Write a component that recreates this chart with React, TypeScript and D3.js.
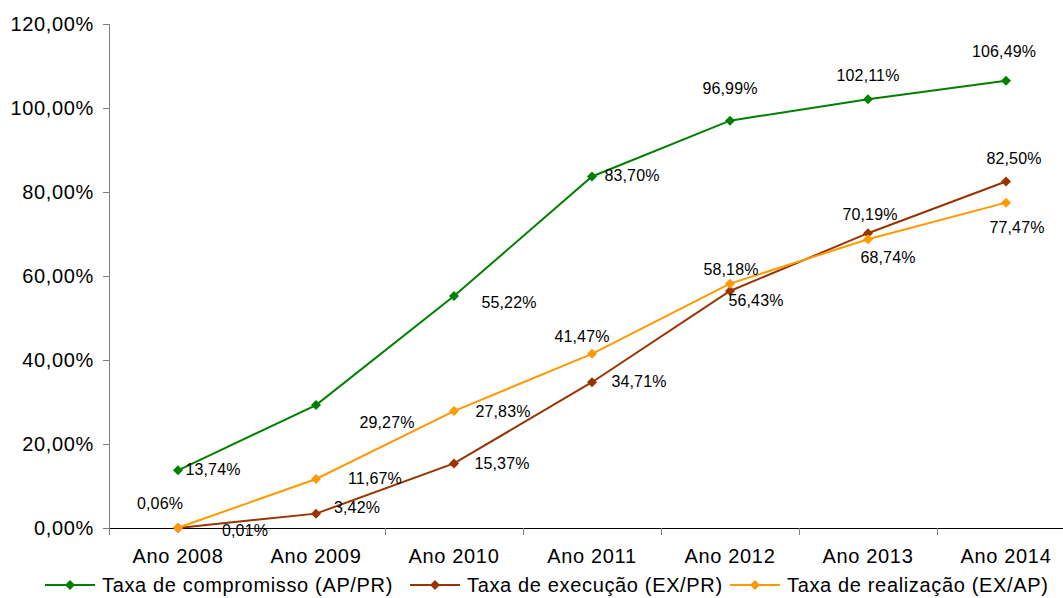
import React from "react";
import * as d3 from "d3";

const categories = ["Ano 2008", "Ano 2009", "Ano 2010", "Ano 2011", "Ano 2012", "Ano 2013", "Ano 2014"];
const compromisso = [13.74, 29.27, 55.22, 83.7, 96.99, 102.11, 106.49];
const execucao = [0.01, 3.42, 15.37, 34.71, 56.43, 70.19, 82.5];
const realizacao = [0.06, 11.67, 27.83, 41.47, 58.18, 68.74, 77.47];
const yTicks = [0, 20, 40, 60, 80, 100, 120];
const seriesNames = ["Taxa de compromisso (AP/PR)", "Taxa de execução (EX/PR)", "Taxa de realização (EX/AP)"];

// label offsets (layout only)
const labelOffsets: [number, number][][] = [
  [[35, -1], [71, 17], [55, 6], [40, -1], [0, -32], [0, -24], [-2, -29]],
  [[67, 2], [41, -6], [48, 0], [47, -1], [26, 9], [2, -19], [8, -23]],
  [[-18, -24], [59, -1], [49, 0], [-10, -17], [1, -14], [20, 18], [11, 25]],
];

const colors = ["#008000", "#993300", "#FF9900"];
const W = 1063, H = 598;
const FONT = "Arial, 'Liberation Sans', sans-serif";
const LS = 0.65;

const fmt = (v: number) => v.toFixed(2).replace(".", ",") + "%";

function Diamond({ x, y, r, color }: { x: number; y: number; r: number; color: string }) {
  return <path d={`M${x},${y - r}L${x + r},${y}L${x},${y + r}L${x - r},${y}Z`} fill={color} />;
}

export default function App() {
  const x = d3.scaleBand<string>().domain(categories).range([109, 1075]);
  const y = d3.scaleLinear().domain([0, 120]).range([528, 24]);
  const allSeries = [compromisso, execucao, realizacao];
  const cx = (c: string) => (x(c) as number) + x.bandwidth() / 2;
  const line = d3.line<[number, number]>().x((d) => d[0]).y((d) => d[1]);
  const legendX = [45, 410, 730];

  return (
    <svg width={W} height={H} style={{ position: "absolute", left: 0, top: 0, background: "#fff" }} fontFamily={FONT}>
      {/* y axis */}
      <line x1={109.5} x2={109.5} y1={y(120)} y2={y(0)} stroke="#808080" strokeWidth={1} />
      {yTicks.map((t) => (
        <g key={t}>
          <line x1={103} x2={109.5} y1={Math.round(y(t)) + 0.5} y2={Math.round(y(t)) + 0.5} stroke="#808080" />
          <text x={94} y={y(t)} dy="0.35em" textAnchor="end" fontSize={20} letterSpacing={LS} fill="#000">
            {t.toFixed(2).replace(".", ",") + "%"}
          </text>
        </g>
      ))}
      {/* x axis */}
      <line x1={109} x2={1075} y1={528.5} y2={528.5} stroke="#000" strokeWidth={1} />
      {categories.map((c) => (
        <g key={c}>
          <line x1={Math.round(x(c) as number) + 0.5} x2={Math.round(x(c) as number) + 0.5} y1={528} y2={535} stroke="#808080" />
          <text x={cx(c)} y={563} textAnchor="middle" fontSize={20} letterSpacing={LS} fill="#000">{c}</text>
        </g>
      ))}
      {/* series */}
      {allSeries.map((s, si) => {
        const pts: [number, number][] = s.map((v, i) => [cx(categories[i]), y(v)]);
        return (
          <g key={si}>
            <path d={line(pts) as string} fill="none" stroke={colors[si]} strokeWidth={2} />
            {pts.map((p, i) => (
              <Diamond key={i} x={p[0]} y={p[1]} r={5} color={colors[si]} />
            ))}
          </g>
        );
      })}
      {allSeries.map((s, si) => (
        <g key={"l" + si}>
          {s.map((v, i) => (
            <text
              key={i}
              x={cx(categories[i]) + labelOffsets[si][i][0]}
              y={y(v) + labelOffsets[si][i][1]}
              dy="0.35em"
              textAnchor="middle"
              fontSize={16}
              letterSpacing={0.15}
              fill="#000"
            >
              {fmt(v)}
            </text>
          ))}
        </g>
      ))}
      {/* legend */}
      {seriesNames.map((n, i) => (
        <g key={n}>
          <line x1={legendX[i]} x2={legendX[i] + 50} y1={585} y2={585} stroke={colors[i]} strokeWidth={2} />
          <Diamond x={legendX[i] + 25} y={585} r={5} color={colors[i]} />
          <text x={legendX[i] + 57} y={585} dy="0.35em" fontSize={20} letterSpacing={LS} fill="#000">{n}</text>
        </g>
      ))}
    </svg>
  );
}
